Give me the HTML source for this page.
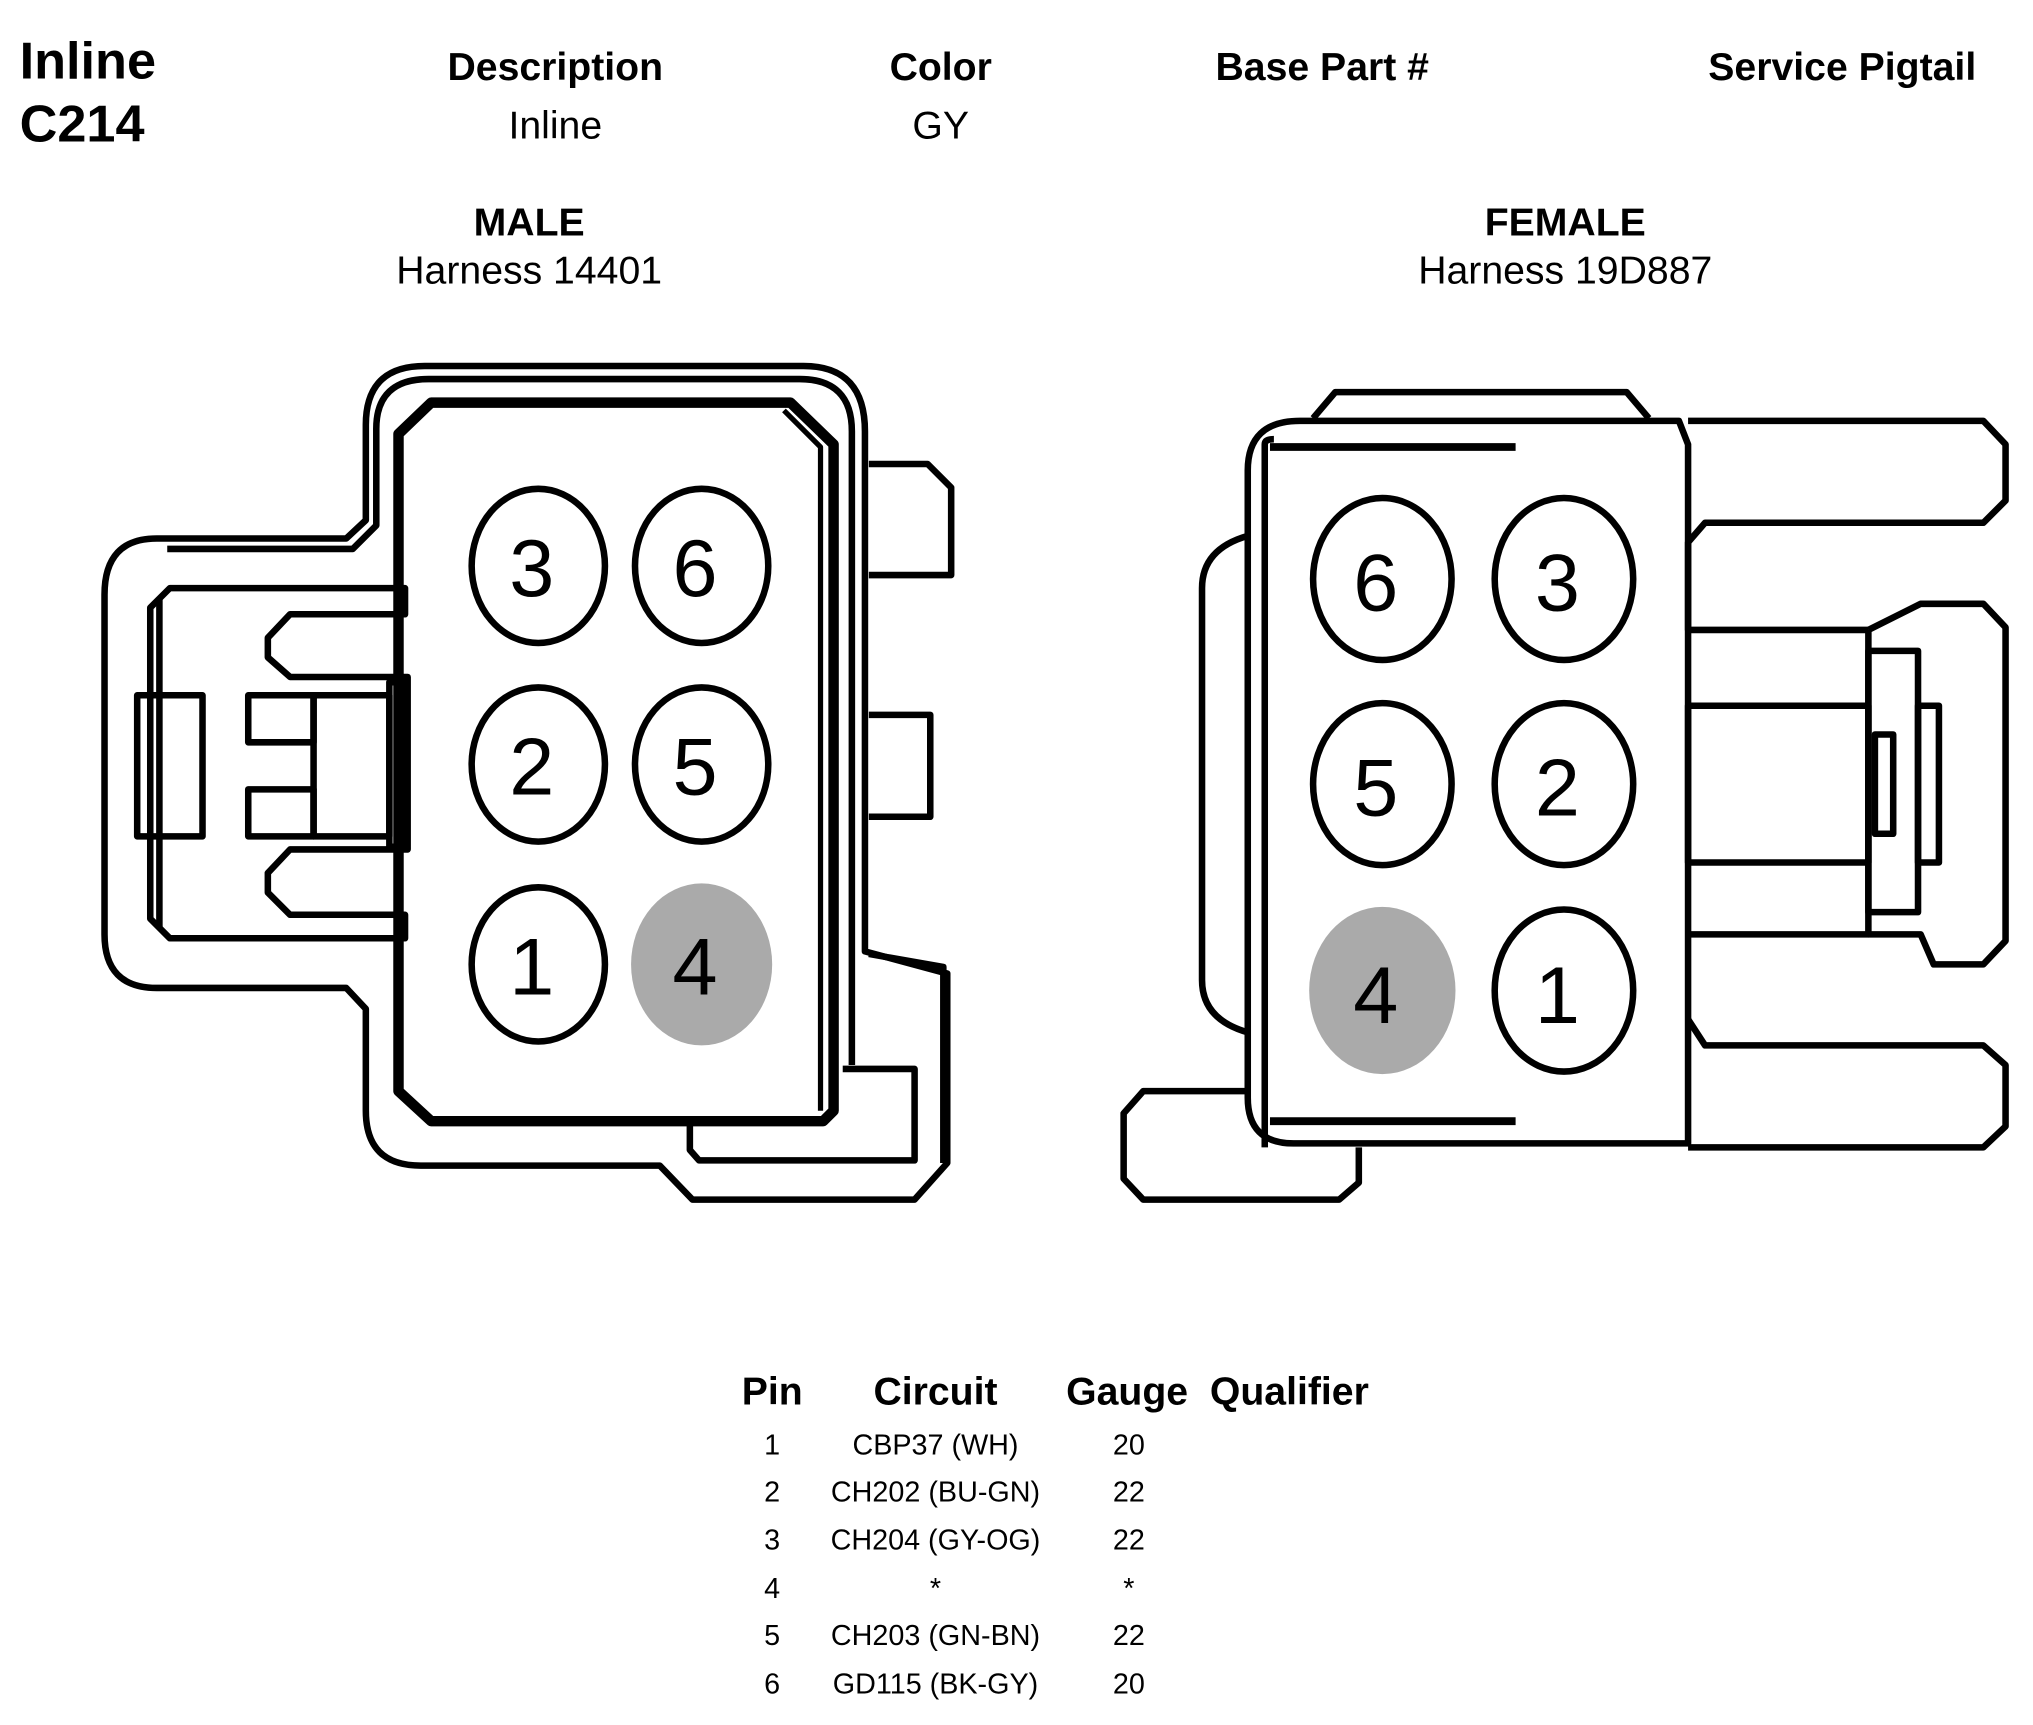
<!DOCTYPE html>
<html><head><style>
html,body{margin:0;padding:0;background:#fff;}
svg{display:block;}
text{font-family:"Liberation Sans",Arial,sans-serif;fill:#000;}
</style></head><body>
<svg width="2033" height="1725" viewBox="0 0 1556 1320" xmlns="http://www.w3.org/2000/svg">
<g font-weight="bold">
<text x="15" y="60" font-size="40">Inline</text>
<text x="15" y="108" font-size="40">C214</text>
<text x="425" y="61" font-size="30" text-anchor="middle">Description</text>
<text x="720" y="61" font-size="30" text-anchor="middle">Color</text>
<text x="1012" y="61" font-size="30" text-anchor="middle">Base Part #</text>
<text x="1410" y="61" font-size="30" text-anchor="middle">Service Pigtail</text>
<text x="405" y="180" font-size="30" text-anchor="middle">MALE</text>
<text x="1198" y="180" font-size="30" text-anchor="middle">FEMALE</text>
</g>
<text x="425" y="106" font-size="30" text-anchor="middle">Inline</text>
<text x="720" y="106" font-size="30" text-anchor="middle">GY</text>
<text x="405" y="217" font-size="30" text-anchor="middle">Harness 14401</text>
<text x="1198" y="217" font-size="30" text-anchor="middle">Harness 19D887</text>

<g fill="none" stroke="#000" stroke-width="5" stroke-linejoin="round">
<!-- MALE -->
<path d="M120 412 L265 412 L280 398 L280 325 Q280 280 325 280 L615 280 Q662 280 662 330 L662 728 L725 745 L725 890 L700 918 L530 918 L505 892 L322 892 Q280 892 280 850 L280 772 L265 756 L120 756 Q80 756 80 715 L80 455 Q80 412 120 412 Z"/>
<path d="M128 420 L270 420 L288 402 L288 328 Q288 290 328 290 L612 290 Q652 290 652 330 L652 815"/>
<path d="M330 308 L605 308 L638 340 L638 850 L630 858 L330 858 L305 835 L305 332 Z" stroke-width="8"/>
<path d="M600 314 L628 342 L628 850" stroke-width="4"/>
<path d="M665 355 L710 355 L728 373 L728 440 L665 440"/>
<path d="M665 547 L712 547 L712 625 L665 625"/>
<path d="M665 730 L722 740 L722 890"/>
<path d="M645 818 L700 818 L700 888 L535 888 L528 880 L528 858"/>
<path d="M130 450 L310 450 L310 470 L222 470 L205 488 L205 503 L222 518 L312 518 L312 650 L222 650 L205 668 L205 683 L222 700 L310 700 L310 718 L130 718 L115 703 L115 465 Z"/>
<path d="M122 458 L122 710"/>
<rect x="105" y="532" width="50" height="108"/>
<rect x="190" y="532" width="50" height="36"/>
<rect x="190" y="604" width="50" height="36"/>
<rect x="240" y="532" width="58" height="108"/>
<rect x="298" y="522" width="12" height="126"/>
<!-- FEMALE -->
<path d="M1000 322 L1285 322 L1292 340 L1292 875 L990 875 Q955 875 955 840 L955 360 Q955 322 995 322 Z"/>
<path d="M968 878 L968 340 Q968 336 975 336"/>
<path d="M972 342 L1160 342 M972 858 L1160 858" stroke-width="6"/>
<path d="M1005 320 L1022 300 L1245 300 L1262 320"/>
<path d="M955 410 Q920 420 920 450 L920 750 Q920 780 955 790"/>
<path d="M1040 878 L1040 905 L1025 918 L875 918 L860 902 L860 852 L875 835 L955 835"/>
<path d="M1292 322 L1518 322 L1535 340 L1535 383 L1518 400 L1305 400 L1292 415 L1292 482 L1430 482"/>
<path d="M1292 715 L1430 715 M1292 780 L1305 800 L1518 800 L1535 815 L1535 862 L1518 878 L1292 878"/>
<path d="M1430 482 L1470 462 L1518 462 L1535 480 L1535 720 L1518 738 L1480 738 L1470 715 L1430 715 L1430 482"/>
<rect x="1292" y="540" width="138" height="120"/>
<rect x="1430" y="498" width="38" height="200"/>
<rect x="1468" y="540" width="16" height="120"/>
<rect x="1435" y="562" width="14" height="76"/>
</g>
<!-- pins -->
<g fill="#fff" stroke="#000" stroke-width="5">
<ellipse cx="412" cy="433" rx="51" ry="59"/>
<ellipse cx="537" cy="433" rx="51" ry="59"/>
<ellipse cx="412" cy="585" rx="51" ry="59"/>
<ellipse cx="537" cy="585" rx="51" ry="59"/>
<ellipse cx="412" cy="738" rx="51" ry="59"/>
<ellipse cx="1058" cy="443" rx="53" ry="62"/>
<ellipse cx="1197" cy="443" rx="53" ry="62"/>
<ellipse cx="1058" cy="600" rx="53" ry="62"/>
<ellipse cx="1197" cy="600" rx="53" ry="62"/>
<ellipse cx="1197" cy="758" rx="53" ry="62"/>
</g>
<ellipse cx="537" cy="738" rx="54" ry="62" fill="#aaa"/>
<ellipse cx="1058" cy="758" rx="56" ry="64" fill="#aaa"/>
<g font-size="62" text-anchor="middle">
<text x="407" y="456">3</text><text x="532" y="456">6</text>
<text x="407" y="608">2</text><text x="532" y="608">5</text>
<text x="407" y="761">1</text><text x="532" y="761" fill="#666">4</text>
<text x="1053" y="467">6</text><text x="1192" y="467">3</text>
<text x="1053" y="624">5</text><text x="1192" y="624">2</text>
<text x="1053" y="783" fill="#666">4</text><text x="1192" y="783">1</text>
</g>
<g font-weight="bold" font-size="30">
<text x="591" y="1075" text-anchor="middle">Pin</text>
<text x="716" y="1075" text-anchor="middle">Circuit</text>
<text x="816" y="1075">Gauge</text>
<text x="926" y="1075">Qualifier</text>
</g>
<g font-size="22" text-anchor="middle">
<text x="591" y="1113">1</text><text x="716" y="1113">CBP37 (WH)</text><text x="864" y="1113">20</text>
<text x="591" y="1149">2</text><text x="716" y="1149">CH202 (BU-GN)</text><text x="864" y="1149">22</text>
<text x="591" y="1186">3</text><text x="716" y="1186">CH204 (GY-OG)</text><text x="864" y="1186">22</text>
<text x="591" y="1223">4</text><text x="716" y="1223">*</text><text x="864" y="1223">*</text>
<text x="591" y="1259">5</text><text x="716" y="1259">CH203 (GN-BN)</text><text x="864" y="1259">22</text>
<text x="591" y="1296">6</text><text x="716" y="1296">GD115 (BK-GY)</text><text x="864" y="1296">20</text>
</g>
</svg>
</body></html>
